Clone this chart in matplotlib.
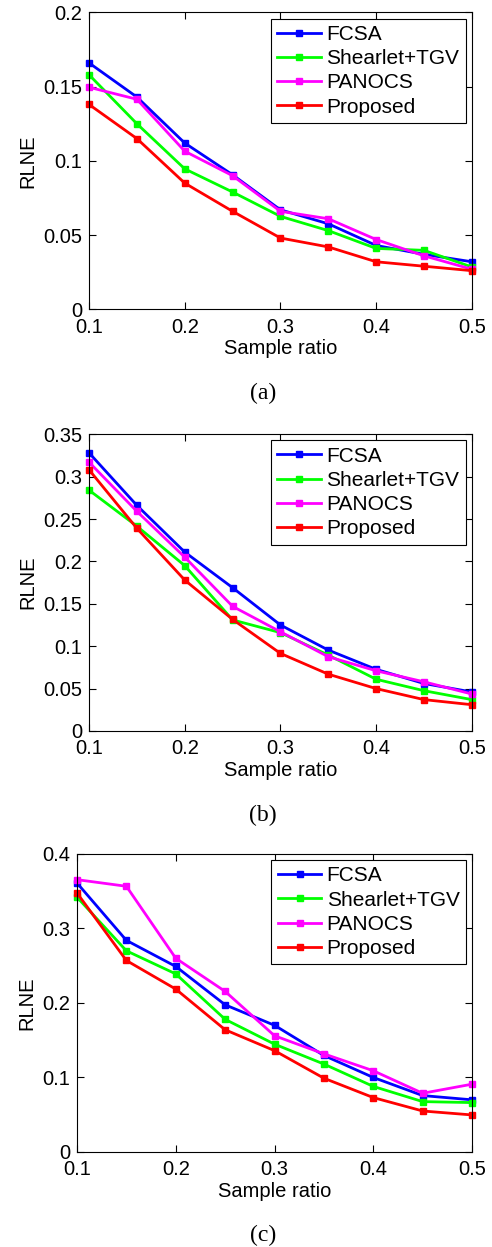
import matplotlib.pyplot as plt
from matplotlib.ticker import FuncFormatter

plt.rcParams['font.family'] = ['Liberation Sans', 'DejaVu Sans']

ratio = [0.1, 0.15, 0.2, 0.25, 0.3, 0.35, 0.4, 0.45, 0.5]
methods = ['FCSA', 'Shearlet+TGV', 'PANOCS', 'Proposed']
colors = ['#0000ff', '#00ff00', '#ff00ff', '#ff0000']

# panel (a)
a_fcsa = [0.166, 0.143, 0.112, 0.0906, 0.067, 0.0576, 0.043, 0.037, 0.032]
a_shear = [0.158, 0.125, 0.0946, 0.079, 0.0626, 0.053, 0.041, 0.0397, 0.0285]
a_panocs = [0.1496, 0.1415, 0.1065, 0.090, 0.066, 0.061, 0.047, 0.036, 0.027]
a_prop = [0.138, 0.115, 0.085, 0.066, 0.048, 0.042, 0.032, 0.029, 0.026]

# panel (b)
b_fcsa = [0.328, 0.266, 0.211, 0.169, 0.125, 0.0954, 0.0727, 0.056, 0.046]
b_shear = [0.284, 0.2415, 0.195, 0.131, 0.116, 0.0895, 0.061, 0.0475, 0.037]
b_panocs = [0.317, 0.259, 0.205, 0.147, 0.117, 0.0876, 0.071, 0.058, 0.0436]
b_prop = [0.308, 0.239, 0.178, 0.1316, 0.0915, 0.067, 0.050, 0.037, 0.031]

# panel (c)
c_fcsa = [0.361, 0.284, 0.249, 0.1975, 0.170, 0.1295, 0.100, 0.0757, 0.070]
c_shear = [0.342, 0.270, 0.239, 0.178, 0.1447, 0.118, 0.088, 0.0676, 0.0663]
c_panocs = [0.3655, 0.3566, 0.260, 0.2155, 0.156, 0.1317, 0.109, 0.0788, 0.091]
c_prop = [0.3476, 0.257, 0.2186, 0.164, 0.136, 0.099, 0.073, 0.055, 0.0497]

panels = [
    ([a_fcsa, a_shear, a_panocs, a_prop], 0.2, 0.05, '(a)', [0.181, 0.752, 0.778, 0.238], 0.6848),
    ([b_fcsa, b_shear, b_panocs, b_prop], 0.35, 0.05, '(b)', [0.181, 0.4138, 0.778, 0.238], 0.3464),
    ([c_fcsa, c_shear, c_panocs, c_prop], 0.4, 0.1, '(c)', [0.1565, 0.0762, 0.803, 0.239], 0.0096),
]

fig = plt.figure(figsize=(4.92, 12.47), dpi=100)
fmt = FuncFormatter(lambda v, p: '%g' % round(v, 3))

for series, ymax, ystep, cap, pos, capy in panels:
    ax = fig.add_axes(pos)
    for vals, name, col in zip(series, methods, colors):
        ax.plot(ratio, vals, '-s', color=col, lw=2, ms=4.5, label=name, clip_on=False)
    ax.set_xlim(0.1, 0.5)
    ax.set_ylim(0, ymax)
    ax.set_xticks([0.1, 0.2, 0.3, 0.4, 0.5])
    ticks = [i * ystep for i in range(int(round(ymax / ystep)) + 1)]
    ax.set_yticks(ticks)
    ax.xaxis.set_major_formatter(fmt)
    ax.yaxis.set_major_formatter(fmt)
    ax.tick_params(direction='in', top=True, right=True, labelsize=14.5, length=5, width=0.8)
    ax.tick_params(axis='x', pad=6)
    ax.tick_params(axis='y', pad=5)
    for s in ax.spines.values():
        s.set_linewidth(0.8)
    ax.set_xlabel('Sample ratio', fontsize=14.5, labelpad=2)
    ax.set_ylabel('RLNE', fontsize=14.5, labelpad=4)
    leg = ax.legend(loc='upper right', fontsize=15, fancybox=False, framealpha=1,
                    edgecolor='black', handlelength=2.1, borderpad=0.3,
                    labelspacing=0.25, handletextpad=0.25, borderaxespad=0.3)
    leg.get_frame().set_linewidth(0.8)
    fig.text(0.535, capy, cap, ha='center', va='center', fontsize=17,
             family='Liberation Serif')

fig.savefig('out.png', dpi=100)
